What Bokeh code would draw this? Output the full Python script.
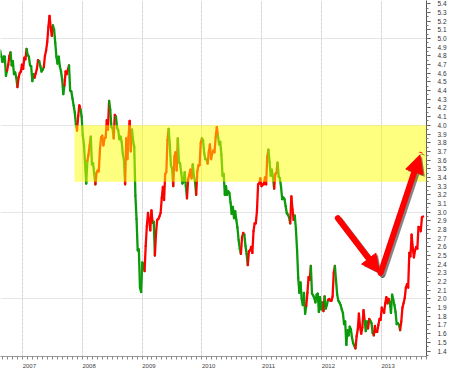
import numpy as np
import pandas as pd
from bokeh.plotting import figure
from bokeh.models import (Range1d, LinearAxis, FixedTicker, SingleIntervalTicker, Grid,
                          BoxAnnotation, Arrow, NormalHead, CustomJSTickFormatter,
                          PrintfTickFormatter, ColumnDataSource)
from bokeh.embed import file_html
from bokeh.resources import INLINE

# ---------------- data: weekly closes (Fridays) ----------------
first_friday = "2006-08-18"
y2006 = [4.86, 4.79, 4.73, 4.79, 4.79, 4.57, 4.63, 4.70, 4.80, 4.84, 4.69, 4.74, 4.59, 4.61, 4.55,
         4.44, 4.55, 4.60, 4.62, 4.70]
y2007 = [4.65, 4.78, 4.76, 4.88,
         4.81, 4.79, 4.69, 4.68,
         4.51, 4.59, 4.55, 4.60, 4.65,
         4.75, 4.74, 4.68, 4.62,
         4.64, 4.67, 4.80, 4.86,
         4.96, 5.13, 5.26, 5.13, 5.03,
         5.15, 5.10, 4.95, 4.79,
         4.71, 4.79, 4.68, 4.62, 4.53,
         4.36, 4.46, 4.62, 4.59,
         4.64, 4.69, 4.40, 4.39,
         4.31, 4.23, 4.15, 4.01, 3.94,
         4.11, 4.23, 4.18, 4.10]
y2008 = [3.88, 3.78, 3.55, 3.33,
         3.59, 3.66, 3.77, 3.87, 3.55,
         3.56, 3.44, 3.32, 3.45,
         3.48, 3.47, 3.72, 3.86,
         3.88, 3.77, 3.85, 3.86, 4.06,
         3.95, 4.28, 4.18, 3.98,
         3.97, 3.85, 4.12, 4.10,
         3.97, 3.94, 3.84, 3.87, 3.81,
         3.67, 3.60, 3.32, 3.85,
         3.61, 3.87, 4.05, 3.70, 3.95,
         3.82, 3.75, 3.19, 2.92,
         2.56, 2.57, 2.13, 2.08]
y2009 = [2.42, 2.40, 2.32, 2.61, 2.84,
         2.99, 2.90, 2.79, 3.02,
         2.88, 2.89, 2.50, 2.76,
         2.91, 2.92, 2.95, 2.99,
         3.16, 3.29, 3.14, 3.44, 3.46,
         3.83, 3.96, 3.78, 3.54,
         3.50, 3.30, 3.64, 3.69, 3.48,
         3.85, 3.57, 3.56, 3.45,
         3.33, 3.35, 3.46, 3.30,
         3.16, 3.38, 3.43, 3.49, 3.39,
         3.55, 3.42, 3.35, 3.20,
         3.47, 3.54, 3.54, 3.80]
y2010 = [3.85, 3.83, 3.68, 3.61, 3.61,
         3.56, 3.69, 3.78, 3.61,
         3.68, 3.71, 3.69, 3.86,
         3.98, 3.88, 3.78, 3.81, 3.66,
         3.42, 3.44, 3.20, 3.30,
         3.20, 3.24, 3.22, 3.11,
         2.98, 3.06, 2.93, 3.01, 2.91,
         2.82, 2.68, 2.58, 2.52,
         2.71, 2.76, 2.74, 2.61,
         2.52, 2.39, 2.55, 2.56, 2.60,
         2.53, 2.78, 2.87, 2.87,
         3.01, 3.32, 3.33, 3.39, 3.30]
y2011 = [3.32, 3.32, 3.40, 3.32,
         3.64, 3.72, 3.58, 3.42,
         3.49, 3.40, 3.27, 3.44,
         3.45, 3.57, 3.41, 3.39, 3.29,
         3.15, 3.17, 3.15, 3.07,
         2.99, 2.97, 2.94, 2.87,
         3.18, 3.03, 2.91, 2.96, 2.80,
         2.56, 2.24, 2.07, 2.19,
         2.00, 1.93, 2.07, 1.83, 1.92,
         2.07, 2.25, 2.22, 2.38,
         2.06, 2.04, 2.01, 1.96,
         2.05, 2.06, 1.85, 2.02, 1.88]
y2012 = [1.96, 1.86, 2.03, 1.89,
         1.93, 1.99, 2.00, 1.98,
         1.98, 2.03, 2.30, 2.38, 2.21,
         2.05, 1.98, 1.96, 1.93,
         1.88, 1.84, 1.71, 1.74,
         1.47, 1.64, 1.58, 1.68, 1.65,
         1.55, 1.49, 1.46, 1.43,
         1.57, 1.65, 1.83, 1.68, 1.60,
         1.67, 1.87, 1.75, 1.63,
         1.74, 1.66, 1.77, 1.75,
         1.72, 1.61, 1.58, 1.69, 1.62,
         1.62, 1.70, 1.77, 1.76]
y2013 = [1.90, 1.87, 1.84, 1.95,
         2.02, 1.95, 2.00, 1.96,
         1.84, 2.05, 1.99, 1.93, 1.85,
         1.71, 1.72, 1.70, 1.64,
         1.74, 1.90, 1.95, 2.01, 2.13,
         2.17, 2.13, 2.53, 2.49,
         2.74, 2.59, 2.48, 2.56,
         2.60, 2.58, 2.83, 2.82, 2.78,
         2.94, 2.95]

# trend state (red = rising, green = falling) from the given Friday onward
trend_changes = [
    ("2006-08-18", "down"), ("2006-10-06", "up"), ("2006-10-27", "down"), ("2006-12-08", "up"),
    ("2007-02-02", "down"), ("2007-03-23", "up"), ("2007-04-20", "down"), ("2007-05-18", "up"),
    ("2007-07-13", "down"), ("2007-09-21", "up"), ("2007-10-19", "down"), ("2007-12-07", "up"),
    ("2007-12-28", "down"), ("2008-02-08", "up"), ("2008-02-29", "down"), ("2008-03-28", "up"),
    ("2008-06-20", "down"), ("2008-07-18", "up"), ("2008-08-01", "down"), ("2008-09-26", "up"),
    ("2008-11-07", "down"), ("2009-01-23", "up"), ("2009-03-20", "down"), ("2009-03-27", "up"),
    ("2009-06-19", "down"), ("2009-07-17", "up"), ("2009-08-14", "down"), ("2009-10-09", "up"),
    ("2009-11-13", "down"), ("2009-12-04", "up"), ("2010-01-08", "down"), ("2010-02-12", "up"),
    ("2010-04-16", "down"), ("2010-09-03", "up"), ("2010-09-24", "down"), ("2010-10-15", "up"),
    ("2011-02-18", "down"), ("2011-03-25", "up"), ("2011-04-15", "down"), ("2011-07-01", "up"),
    ("2011-07-29", "down"), ("2011-10-07", "up"), ("2011-11-04", "down"), ("2012-01-20", "up"),
    ("2012-01-27", "down"), ("2012-02-17", "up"), ("2012-03-30", "down"), ("2012-08-03", "up"),
    ("2012-09-28", "down"), ("2012-10-19", "up"), ("2012-11-02", "down"), ("2012-11-23", "up"),
    ("2013-03-01", "down"), ("2013-05-03", "up"),
]
up_color = "#ff0000"
down_color = "#0a9a0a"

# highlighted resistance zone
band_start = "2007-11-14"
band_low = 3.35
band_high = 4.0

# hand-drawn arrows: (start date, start value, end date, end value)
arrows = [
    ("2012-04-10", 2.93, "2012-12-22", 2.30),
    ("2012-12-28", 2.30, "2013-08-25", 3.66),
]

year_ticks = [2007, 2008, 2009, 2010, 2011, 2012, 2013]


# ---------------- helpers ----------------
def dec_year(d):
    d = pd.Timestamp(d)
    days = 366 if d.is_leap_year else 365
    return d.year + (d.dayofyear - 1) / days


values = y2006 + y2007 + y2008 + y2009 + y2010 + y2011 + y2012 + y2013
dates = pd.date_range(first_friday, periods=len(values), freq="W-FRI")
xs = np.array([dec_year(d) for d in dates])

chg_dates = pd.to_datetime([c[0] for c in trend_changes])
states = [c[1] for c in trend_changes]
idx = np.searchsorted(chg_dates.values, dates.values, side="right") - 1
colors = [up_color if states[i] == "up" else down_color for i in idx]

src = ColumnDataSource(dict(x0=xs[:-1], y0=values[:-1], x1=xs[1:], y1=values[1:], c=colors[1:]))

# ---------------- figure ----------------
px_per_year = 59.8
px_per_unit = 87.3
frame_h = 358
x_left = 2007 - 22 / px_per_year
x_right = 2007 + 404 / px_per_year
y_top = 5.4 + 3.3 / px_per_unit
y_bot = 5.4 - (frame_h - 3.3) / px_per_unit

p = figure(width=449, height=370, output_backend="svg", toolbar_location=None,
           x_range=Range1d(x_left, x_right), y_range=Range1d(y_bot, y_top),
           x_axis_location=None, y_axis_location=None,
           min_border_left=0, min_border_top=0, min_border_right=23, min_border_bottom=9)
p.outline_line_color = None
p.background_fill_color = "white"
p.border_fill_color = "white"

grid = Grid(dimension=0, ticker=FixedTicker(ticks=year_ticks),
            grid_line_color="#d4d4d4", grid_line_dash="2 2", grid_line_width=1)
p.add_layout(grid, "center")

p.segment(x0="x0", y0="y0", x1="x1", y1="y1", line_color="c", line_width=2.3,
          line_cap="round", source=src)

band = BoxAnnotation(left=dec_year(band_start), bottom=band_low, top=band_high,
                     fill_color="#ffff00", fill_alpha=0.5, line_color=None)
p.add_layout(band)

sdx, sdy = 2 / px_per_year, -2 / px_per_unit
for (d0, v0, d1, v1) in arrows:
    p.add_layout(Arrow(x_start=dec_year(d0) + sdx, y_start=v0 + sdy,
                       x_end=dec_year(d1) + sdx, y_end=v1 + sdy,
                       line_color="#202020", line_alpha=0.55, line_width=6, line_cap="round",
                       end=NormalHead(size=18, fill_color="#202020", fill_alpha=0.55, line_color=None)))
for (d0, v0, d1, v1) in arrows:
    p.add_layout(Arrow(x_start=dec_year(d0), y_start=v0, x_end=dec_year(d1), y_end=v1,
                       line_color="#ff0000", line_width=6, line_cap="round",
                       end=NormalHead(size=18, fill_color="#ff0000", line_color="#ff0000")))

# right value axis
yaxis = LinearAxis(ticker=SingleIntervalTicker(interval=0.1, num_minor_ticks=2),
                   formatter=PrintfTickFormatter(format="%.1f"))
yaxis.axis_line_color = "#555555"
yaxis.major_tick_line_color = "#555555"
yaxis.minor_tick_line_color = "#777777"
yaxis.major_tick_out = 4
yaxis.major_tick_in = 0
yaxis.minor_tick_out = 2
yaxis.minor_tick_in = 0
yaxis.major_label_standoff = 7
yaxis.major_label_text_font = "Liberation Sans"
yaxis.major_label_text_font_size = "6.5px"
yaxis.major_label_text_color = "#333333"
p.add_layout(yaxis, "right")

# bottom time axis: month minor ticks, year labels just right of year line
month_starts = pd.date_range("2006-09-01", "2013-10-01", freq="MS")
xaxis = LinearAxis(ticker=FixedTicker(ticks=[y + 0.114 for y in year_ticks],
                                      minor_ticks=[dec_year(m) for m in month_starts]),
                   formatter=CustomJSTickFormatter(code="return Math.floor(tick).toString();"))
xaxis.axis_line_color = "#999999"
xaxis.major_tick_line_color = None
xaxis.minor_tick_line_color = "#888888"
xaxis.minor_tick_out = 3
xaxis.minor_tick_in = 0
xaxis.major_label_standoff = 1
xaxis.major_label_text_font = "Liberation Sans"
xaxis.major_label_text_font_size = "6px"
xaxis.major_label_text_color = "#444444"
p.add_layout(xaxis, "below")

open("out.html", "w").write(file_html(p, INLINE))
